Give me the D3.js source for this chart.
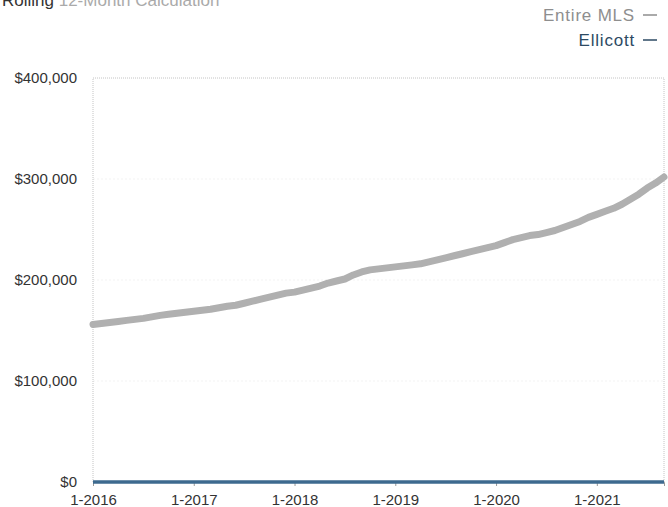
<!DOCTYPE html>
<html><head><meta charset="utf-8">
<script src="https://cdn.jsdelivr.net/npm/d3@7"></script>
<style>body{margin:0;background:#fff;}svg{display:block;font-family:"Liberation Sans",Arial,sans-serif;}</style>
</head><body><svg id="c" width="668" height="507"></svg>
<script>
const months = [];
for (let y = 2016; y <= 2021; y++) for (let m = 1; m <= 12; m++) { if (y === 2021 && m > 9) break; months.push(m + "-" + y); }
const entireMLS = [
 156000,157000,158000,159000,160000,161000,162000,163500,165000,166000,167000,168000,
 169000,170000,171000,172500,174000,175000,177000,179000,181000,183000,185000,187000,
 188000,190000,192000,194000,197000,199000,201000,205000,208000,210000,211000,212000,
 213000,214000,215000,216000,218000,220000,222000,224000,226000,228000,230000,232000,
 234000,237000,240000,242000,244000,245000,247000,249000,252000,255000,258000,262000,
 265000,268000,271000,275000,280000,285000,291000,296000,302000];
const ellicott = [
 0,0,0,0,0,0,0,0,0,0,0,0, 0,0,0,0,0,0,0,0,0,0,0,0, 0,0,0,0,0,0,0,0,0,0,0,0,
 0,0,0,0,0,0,0,0,0,0,0,0, 0,0,0,0,0,0,0,0,0,0,0,0, 0,0,0,0,0,0,0,0,0];
const yTicks = [0,100000,200000,300000,400000];
const xTickLabels = ["1-2016","1-2017","1-2018","1-2019","1-2020","1-2021"];
const legendItems = ["Entire MLS","Ellicott"];

const svg = d3.select("#c");
const L = 93, R = 664, T = 78, B = 482;
const x = d3.scalePoint().domain(months).range([L, R]);
const y = d3.scaleLinear().domain([0, 400000]).range([B, T]);

// title (cut off at top, as in the reference)
svg.append("text").attr("x", 2).attr("y", 6).attr("font-size", 17)
  .html('<tspan fill="#333">Rolling</tspan><tspan fill="#aaa"> 12-Month Calculation</tspan>');

// gridlines faint
svg.append("g").selectAll("line").data(yTicks.slice(1,4)).join("line")
  .attr("x1", L).attr("x2", R).attr("y1", d => y(d)).attr("y2", d => y(d))
  .attr("stroke", "#f3f3f3").attr("stroke-dasharray", "2,2");

// frame
svg.append("path").attr("d", `M${L},${B}V${T}H${R}V${B}`).attr("fill","none")
  .attr("stroke","#c4c4c4").attr("stroke-dasharray","1,1");

// y axis labels
const yAxis = d3.axisLeft(y).tickValues(yTicks).tickSize(0).tickPadding(16)
  .tickFormat(d => "$" + d3.format(",")(d));
const gy = svg.append("g").attr("transform", `translate(${L},0)`).call(yAxis);
gy.select(".domain").remove();
gy.selectAll("text").attr("font-size", 15).attr("fill", "#333").attr("font-family","Liberation Sans, Arial, sans-serif");

// x axis
const xAxis = d3.axisBottom(x).tickValues(xTickLabels).tickSize(4).tickPadding(8);
const gx = svg.append("g").attr("transform", `translate(0,${B})`).call(xAxis);
gx.select(".domain").attr("stroke","#999");
gx.selectAll(".tick line").attr("stroke","#999");
gx.selectAll("text").attr("font-size", 15).attr("fill", "#333").attr("font-family","Liberation Sans, Arial, sans-serif");

const line = d3.line().x((d,i) => x(months[i])).y(d => y(d)).curve(d3.curveLinear);
svg.append("path").datum(entireMLS).attr("d", line).attr("fill","none")
  .attr("stroke","#b0b0b0").attr("stroke-width",7).attr("stroke-linejoin","round").attr("stroke-linecap","round");
svg.append("path").datum(ellicott).attr("d", line).attr("fill","none")
  .attr("stroke","#3d6a8f").attr("stroke-width",3.5);

// legend
const leg = svg.append("g");
const legColors = ["#8e8e8e", "#2d4a63"];
const lineColors = ["#8e8e8e", "#2d4a63"];
legendItems.forEach((name, i) => {
  const yy = 21 + i * 25;
  leg.append("text").attr("x", 635).attr("y", yy).attr("text-anchor","end")
    .attr("font-size", 17).attr("letter-spacing", 0.8).attr("fill", legColors[i]).text(name);
  leg.append("line").attr("x1", 643).attr("x2", 657).attr("y1", yy-6).attr("y2", yy-6)
    .attr("stroke", lineColors[i]).attr("stroke-width", 1.5);
});
</script></body></html>
